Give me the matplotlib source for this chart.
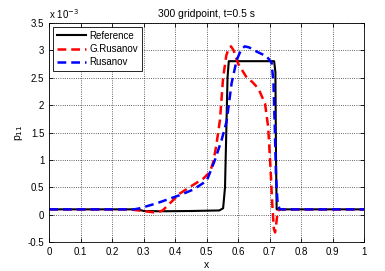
import numpy as np
import matplotlib
matplotlib.use("Agg")
import matplotlib.pyplot as plt

plt.rcParams['font.family'] = ['Liberation Sans', 'DejaVu Sans']

# values in units of 1e-3
x_ref = [0, 0.28, 0.30, 0.35, 0.45, 0.54, 0.552, 0.558, 0.562, 0.566, 0.57, 0.714, 0.718, 0.72, 0.722, 1.0]
p_ref = [0.1, 0.1, 0.07, 0.065, 0.07, 0.08, 0.12, 0.5, 1.5, 2.5, 2.8, 2.8, 2.6, 1.0, 0.1, 0.1]

x_grus = [0, 0.25, 0.27, 0.31, 0.34, 0.36, 0.383, 0.415, 0.447, 0.489, 0.51, 0.52, 0.53, 0.542,
          0.552, 0.562, 0.57, 0.577, 0.585, 0.60, 0.627, 0.645, 0.664, 0.685, 0.695, 0.702,
          0.708, 0.713, 0.717, 0.721, 0.725, 0.73, 1.0]
p_grus = [0.1, 0.1, 0.09, 0.06, 0.04, 0.08, 0.21, 0.39, 0.51, 0.66, 0.78, 0.95, 1.25, 1.73,
          2.5, 2.9, 3.04, 3.07, 3.0, 2.75, 2.5, 2.42, 2.3, 2.03, 1.6, 0.9,
          0.2, -0.25, -0.32, -0.15, 0.05, 0.1, 0.1]

x_rus = [0, 0.27, 0.288, 0.341, 0.415, 0.457, 0.50, 0.526, 0.547, 0.563, 0.579, 0.595, 0.61,
         0.621, 0.635, 0.66, 0.69, 0.706, 0.712, 0.716, 0.72, 0.725, 0.732, 1.0]
p_rus = [0.1, 0.1, 0.12, 0.21, 0.36, 0.46, 0.62, 1.0, 1.36, 1.7, 2.4, 2.82, 3.02,
         3.07, 3.05, 2.97, 2.89, 2.77, 2.4, 1.6, 0.7, 0.2, 0.1, 0.1]

fig = plt.figure(figsize=(3.85, 2.71), dpi=100)
ax = fig.add_axes([0.128, 0.106, 0.818, 0.810])

ax.plot(x_ref, p_ref, color='black', lw=1.5, label='Reference')
ax.plot(x_grus, p_grus, color='red', lw=1.8, ls=(0, (3.5, 2)), label='G.Rusanov')
ax.plot(x_rus, p_rus, color='blue', lw=1.8, ls=(0, (3.5, 2)), label='Rusanov')

ax.set_xlim(0, 1)
ax.set_ylim(-0.5, 3.5)
ax.set_xticks(np.arange(0, 1.01, 0.1))
ax.set_xticklabels(['0', '0.1', '0.2', '0.3', '0.4', '0.5', '0.6', '0.7', '0.8', '0.9', '1'])
ax.set_yticks(np.arange(-0.5, 3.51, 0.5))
ax.set_yticklabels(['-0.5', '0', '0.5', '1', '1.5', '2', '2.5', '3', '3.5'])
ax.tick_params(direction='in', labelsize=7, length=3, top=True, right=True, width=0.6)
ax.grid(True, ls=':', color='black', lw=0.6, alpha=0.8)
for s in ax.spines.values():
    s.set_linewidth(0.6)

ax.set_xlabel('x', fontsize=7.5, labelpad=2)
ax.set_ylabel('p$_{11}$', fontsize=7.5, labelpad=2)
ax.set_title('300 gridpoint, t=0.5 s', fontsize=7.5, pad=4)
ax.text(0.0, 1.01, 'x 10$^{-3}$', transform=ax.transAxes, fontsize=7, ha='left', va='bottom')

leg = ax.legend(loc='upper left', fontsize=7, handlelength=3, borderaxespad=0.4,
                fancybox=False, framealpha=1, edgecolor='black', borderpad=0.4,
                labelspacing=0.35, handletextpad=0.3)
leg.get_frame().set_linewidth(0.6)

fig.savefig('out.png', dpi=100)
